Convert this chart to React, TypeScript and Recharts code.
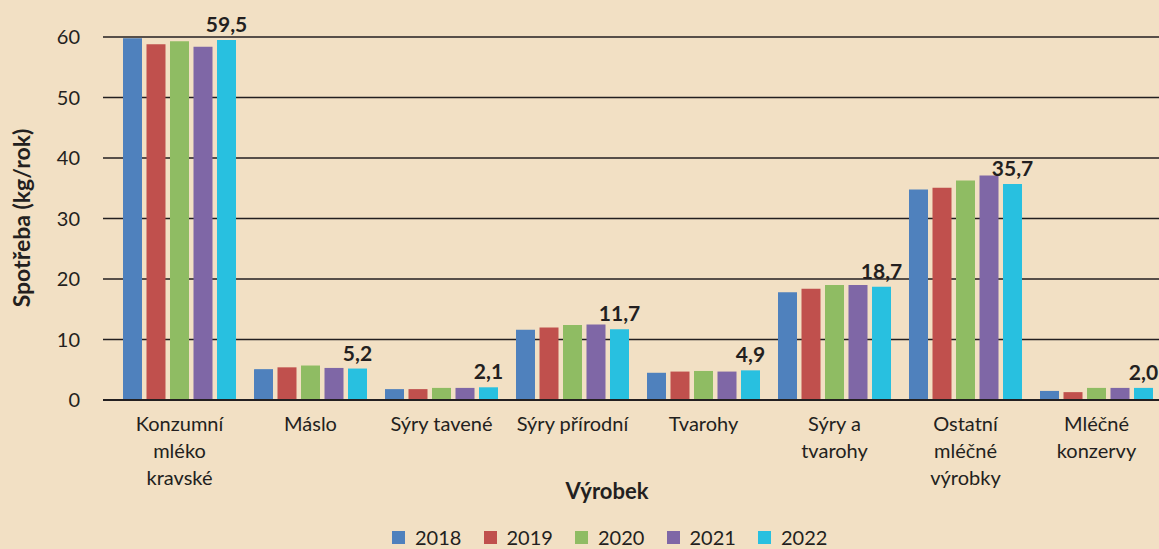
import React from "react";
import {
  BarChart,
  Bar,
  XAxis,
  YAxis,
  CartesianGrid,
  Legend,
  LabelList,
} from "recharts";

// Spotřeba mléka a mléčných výrobků (kg/rok)
const categories = [
  "Konzumní mléko kravské",
  "Máslo",
  "Sýry tavené",
  "Sýry přírodní",
  "Tvarohy",
  "Sýry a tvarohy",
  "Ostatní mléčné výrobky",
  "Mléčné konzervy",
];

// how each category label breaks into lines under the axis
const tickLines = [
  ["Konzumní", "mléko", "kravské"],
  ["Máslo"],
  ["Sýry tavené"],
  ["Sýry přírodní"],
  ["Tvarohy"],
  ["Sýry a", "tvarohy"],
  ["Ostatní", "mléčné", "výrobky"],
  ["Mléčné", "konzervy"],
];

const years = ["2018", "2019", "2020", "2021", "2022"];

const v2018 = [59.8, 5.1, 1.8, 11.6, 4.5, 17.8, 34.8, 1.5];
const v2019 = [58.8, 5.4, 1.8, 12.0, 4.7, 18.4, 35.1, 1.3];
const v2020 = [59.3, 5.7, 2.0, 12.4, 4.8, 19.0, 36.3, 2.0];
const v2021 = [58.4, 5.3, 2.0, 12.5, 4.7, 19.0, 37.1, 2.0];
const v2022 = [59.5, 5.2, 2.1, 11.7, 4.9, 18.7, 35.7, 2.0];

const yTicks = [0, 10, 20, 30, 40, 50, 60];

const colors = ["#4F81BD", "#C0504D", "#8FBC63", "#7F67A6", "#28C0E0"];

const INK = "#231F20";
const BG = "#F2E0C4";
const FONT = "Lato, 'Open Sans', sans-serif";

const seriesValues = [v2018, v2019, v2020, v2021, v2022];

const data = categories.map((name, i) => {
  const row: Record<string, string | number> = { name, idx: i };
  years.forEach((y, s) => {
    row[y] = seriesValues[s][i];
  });
  return row;
});

const fmt = (v: unknown) => Number(v).toFixed(1).replace(".", ",");

const CategoryTick = (props: any) => {
  const { x, y, payload } = props;
  const lines = tickLines[payload.index] || [String(payload.value)];
  return (
    <g>
      {lines.map((line, i) => (
        <text
          key={i}
          x={x}
          y={y + 23 + i * 27}
          textAnchor="middle"
          fontSize={20}
          fontFamily={FONT}
          fill={INK}
        >
          {line}
        </text>
      ))}
    </g>
  );
};

const LegendRow = () => (
  <div
    style={{
      display: "flex",
      justifyContent: "flex-start",
      paddingLeft: 392,
      fontFamily: FONT,
      fontSize: 20,
      lineHeight: "20px",
      color: INK,
    }}
  >
    {years.map((y, i) => (
      <div
        key={y}
        style={{ display: "flex", alignItems: "center", width: 91.5 }}
      >
        <span
          style={{
            display: "inline-block",
            width: 13,
            height: 13,
            background: colors[i],
            marginRight: 10,
          }}
        />
        <span>{y}</span>
      </div>
    ))}
  </div>
);

export default function App() {
  return (
    <div
      style={{
        position: "absolute",
        left: 0,
        top: 0,
        width: 1159,
        height: 549,
        overflow: "hidden",
        background: BG,
      }}
    >
      <BarChart
        width={1170}
        height={549}
        data={data}
        margin={{ top: 37, right: 8, bottom: 49, left: 0 }}
        barSize={19}
        barGap={4.5}
      >
        <CartesianGrid
          vertical={false}
          stroke={INK}
          strokeWidth={1.5}
        />
        <XAxis
          dataKey="name"
          interval={0}
          height={100}
          padding={{ left: 11, right: 0 }}
          axisLine={{ stroke: INK, strokeWidth: 2 }}
          tickLine={false}
          tick={<CategoryTick />}
          label={{
            content: () => (
              <text
                x={607}
                y={499}
                textAnchor="middle"
                fontSize={22}
                fontWeight="bold"
                fontFamily={FONT}
                fill={INK}
              >
                Výrobek
              </text>
            ),
          }}
        />
        <YAxis
          width={103}
          domain={[0, 60]}
          ticks={yTicks}
          axisLine={false}
          tickLine={false}
          tickSize={0}
          tickMargin={23}
          tick={{ fontSize: 20, fontFamily: FONT, fill: INK }}
          label={{
            content: () => (
              <text
                x={30}
                y={218}
                transform="rotate(-90 30 218)"
                textAnchor="middle"
                fontSize={23}
                fontWeight="bold"
                fontFamily={FONT}
                fill={INK}
              >
                Spotřeba (kg/rok)
              </text>
            ),
          }}
        />
        <Legend
          layout="horizontal"
          verticalAlign="middle"
          align="center"
          content={<LegendRow />}
          wrapperStyle={{ position: "absolute", top: 527, left: 0, width: 1159 }}
        />
        {years.map((y, i) => (
          <Bar
            key={y}
            dataKey={y}
            fill={colors[i]}
            isAnimationActive={false}
          >
            {i === years.length - 1 && (
              <LabelList
                dataKey={y}
                position="top"
                offset={8}
                formatter={fmt}
                style={{
                  fontSize: 21,
                  fontWeight: "bold",
                  fontFamily: FONT,
                  fill: INK,
                }}
              />
            )}
          </Bar>
        ))}
      </BarChart>
    </div>
  );
}
